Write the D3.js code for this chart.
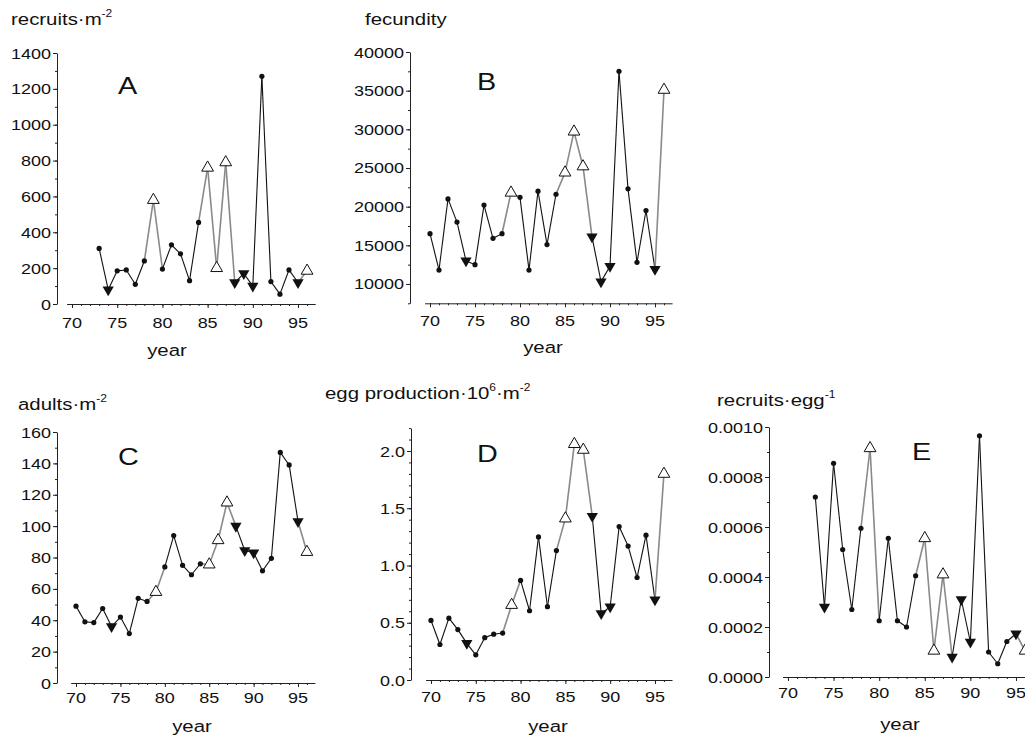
<!DOCTYPE html>
<html>
<head>
<meta charset="utf-8">
<script src="https://cdn.jsdelivr.net/npm/d3@7"></script>
<style>
body { margin: 0; background: #fff; }
text { font-family: "Liberation Sans", Arial, sans-serif; fill: #111; }
</style>
</head>
<body>
<svg id="chart" width="1025" height="739"></svg>
<script>
// years of each series
const yearsLong = [70, 71, 72, 73, 74, 75, 76, 77, 78, 79, 80, 81, 82, 83, 84, 85, 86, 87, 88, 89, 90, 91, 92, 93, 94, 95, 96];
const yearsShort = [73, 74, 75, 76, 77, 78, 79, 80, 81, 82, 83, 84, 85, 86, 87, 88, 89, 90, 91, 92, 93, 94, 95, 96];
// marker type per year: open up-triangle, filled down-triangle, otherwise a dot
const upYears = [79, 85, 86, 87, 96];
const downYears = [74, 88, 89, 90, 95];

const recruits = [310, 80, 185, 190, 110, 240, 580, 195, 330, 280, 130, 455, 760, 200, 790, 120, 170, 100, 1270, 125, 55, 190, 120, 185];
const fecundity = [16500, 11800, 21000, 18000, 13000, 12500, 20200, 15900, 16500, 21800, 21200, 11800, 22000, 15100, 21600, 24400, 29700, 25200, 16100, 10300, 12300, 37500, 22300, 12800, 19500, 11900, 35100];
const adults = [49, 39, 38.5, 47.5, 36, 42, 31.5, 54, 52, 58, 74, 94, 75, 69, 76, 75.5, 91, 115, 100, 84.5, 83, 71.5, 79.5, 147, 139, 103, 83.5];
const eggProduction = [0.52, 0.31, 0.54, 0.44, 0.32, 0.22, 0.37, 0.40, 0.41, 0.655, 0.87, 0.605, 1.25, 0.64, 1.13, 1.41, 2.06, 2.01, 1.43, 0.58, 0.64, 1.34, 1.17, 0.895, 1.265, 0.70, 1.80];
const recruitsPerEgg = [0.00072, 0.00028, 0.000855, 0.00051, 0.00027, 0.000595, 0.000915, 0.000225, 0.000555, 0.000225, 0.0002, 0.000405, 0.000555, 0.000105, 0.00041, 0.00008, 0.00031, 0.00014, 0.000965, 0.0001, 0.000053, 0.000142, 0.000173, 0.000105];

const yearTicks = [70, 75, 80, 85, 90, 95];
const recruitsTicks = [0, 200, 400, 600, 800, 1000, 1200, 1400];
const fecundityTicks = [10000, 15000, 20000, 25000, 30000, 35000, 40000];
const adultsTicks = [0, 20, 40, 60, 80, 100, 120, 140, 160];
const eggTicks = [0, 0.5, 1.0, 1.5, 2.0];
const perEggTicks = [0, 0.0002, 0.0004, 0.0006, 0.0008, 0.001];

const svg = d3.select("#chart");
const stretch = 1.2;

function label(g, x, y, str, anchor, size) {
	return g.append("text")
		.attr("transform", `translate(${x},${y}) scale(${stretch},1)`)
		.attr("text-anchor", anchor)
		.attr("font-size", size)
		.text(str);
}

function title(x, y, parts) {
	let t = svg.append("text")
		.attr("transform", `translate(${x},${y}) scale(${stretch},1)`)
		.attr("font-size", 17);
	parts.forEach(p => {
		t.append("tspan")
			.attr("font-size", p.sup ? 10 : 17)
			.attr("dy", p.dy || 0)
			.text(p.s);
	});
}

const panels = [
	{ letter: "A", years: yearsShort, values: recruits, ticks: recruitsTicks, fmt: d3.format("d"),
	  yDomain: [0, 1400], yRange: [304, 53], xRange: [66.6, 315.2], axisX: 57, minor: 100,
	  letterPos: [118, 94], yearPos: [167, 356], tickBase: 328 },
	{ letter: "B", years: yearsLong, values: fecundity, ticks: fecundityTicks, fmt: d3.format("d"),
	  yDomain: [7500, 40000], yRange: [303.3, 52], xRange: [424.6, 672.1], axisX: 410, minor: 2500,
	  letterPos: [477, 90], yearPos: [543, 353], tickBase: 326 },
	{ letter: "C", years: yearsLong, values: adults, ticks: adultsTicks, fmt: d3.format("d"),
	  yDomain: [0, 160], yRange: [683, 432], xRange: [70.7, 314.9], axisX: 57, minor: 10,
	  letterPos: [118, 465], yearPos: [192, 732], tickBase: 703 },
	{ letter: "D", years: yearsLong, values: eggProduction, ticks: eggTicks, fmt: d3.format(".1f"),
	  yDomain: [0, 2.2], yRange: [680, 428.1], xRange: [425.6, 672], axisX: 411, minor: 0.1,
	  letterPos: [477, 462], yearPos: [548, 732], tickBase: 702 },
	{ letter: "E", years: yearsShort, values: recruitsPerEgg, ticks: perEggTicks, fmt: d3.format(".4f"),
	  yDomain: [0, 0.001], yRange: [677, 427], xRange: [782.5, 1033.3], axisX: 769, minor: 0.0001,
	  letterPos: [912, 460], yearPos: [900, 730], tickBase: 698 }
];

panels.forEach(p => {
	let g = svg.append("g");
	let x = d3.scaleLinear().domain([69.4, 96.9]).range(p.xRange);
	let y = d3.scaleLinear().domain(p.yDomain).range(p.yRange);
	let base = p.yRange[0];

	// y axis
	g.append("g").attr("transform", `translate(${p.axisX},0)`)
		.call(d3.axisLeft(y).tickValues(p.ticks).tickSize(4).tickSizeOuter(0).tickFormat(""));
	let minorY = d3.range(p.yDomain[0], p.yDomain[1] + p.minor / 2, p.minor);
	g.append("g").attr("transform", `translate(${p.axisX},0)`)
		.call(d3.axisLeft(y).tickValues(minorY).tickSize(2).tickFormat(""))
		.select(".domain").remove();
	p.ticks.forEach(v => {
		label(g, p.axisX - 6, y(v) + 5.5, p.fmt(v), "end", 15);
	});

	// x axis
	g.append("g").attr("transform", `translate(0,${base})`)
		.call(d3.axisBottom(x).tickValues(yearTicks).tickSize(4).tickSizeOuter(0).tickFormat(""));
	g.append("g").attr("transform", `translate(0,${base})`)
		.call(d3.axisBottom(x).tickValues(yearsLong).tickSize(2).tickFormat(""))
		.select(".domain").remove();
	yearTicks.forEach(v => {
		label(g, x(v), p.tickBase, v, "middle", 15);
	});
	g.selectAll(".domain, .tick line").attr("stroke", "#222");

	label(g, p.yearPos[0], p.yearPos[1], "year", "middle", 17);
	label(g, p.letterPos[0], p.letterPos[1], p.letter, "start", 24);

	// line segments
	let pts = p.years.map((yr, i) => ({ yr: yr, v: p.values[i],
		type: upYears.includes(yr) ? "up" : downYears.includes(yr) ? "down" : "dot" }));
	d3.pairs(pts).forEach(([a, b]) => {
		let grey = a.type === "up" || b.type === "up";
		g.append("line")
			.attr("x1", x(a.yr)).attr("y1", y(a.v))
			.attr("x2", x(b.yr)).attr("y2", y(b.v))
			.attr("stroke", grey ? "#8a8a8a" : "#111")
			.attr("stroke-width", grey ? 1.6 : 1.1);
	});

	// markers
	pts.forEach(d => {
		if (d.type === "dot") {
			g.append("circle").attr("cx", x(d.yr)).attr("cy", y(d.v)).attr("r", 2.6).attr("fill", "#111");
		} else if (d.type === "up") {
			g.append("path").attr("d", d3.symbol(d3.symbolTriangle, 60)())
				.attr("transform", `translate(${x(d.yr)},${y(d.v)})`)
				.attr("fill", "#fff").attr("stroke", "#111").attr("stroke-width", 1);
		} else {
			g.append("path").attr("d", d3.symbol(d3.symbolTriangle, 55)())
				.attr("transform", `translate(${x(d.yr)},${y(d.v)}) rotate(180)`)
				.attr("fill", "#111");
		}
	});
});

// axis titles
title(11, 25, [{ s: "recruits·m" }, { s: "-2", sup: true, dy: -8 }]);
title(365, 25, [{ s: "fecundity" }]);
title(18, 410, [{ s: "adults·m" }, { s: "-2", sup: true, dy: -8 }]);
title(325, 399, [{ s: "egg production·10" }, { s: "6", sup: true, dy: -8 }, { s: "·m", dy: 8 }, { s: "-2", sup: true, dy: -8 }]);
title(717, 406, [{ s: "recruits·egg" }, { s: "-1", sup: true, dy: -8 }]);
</script>
</body>
</html>
